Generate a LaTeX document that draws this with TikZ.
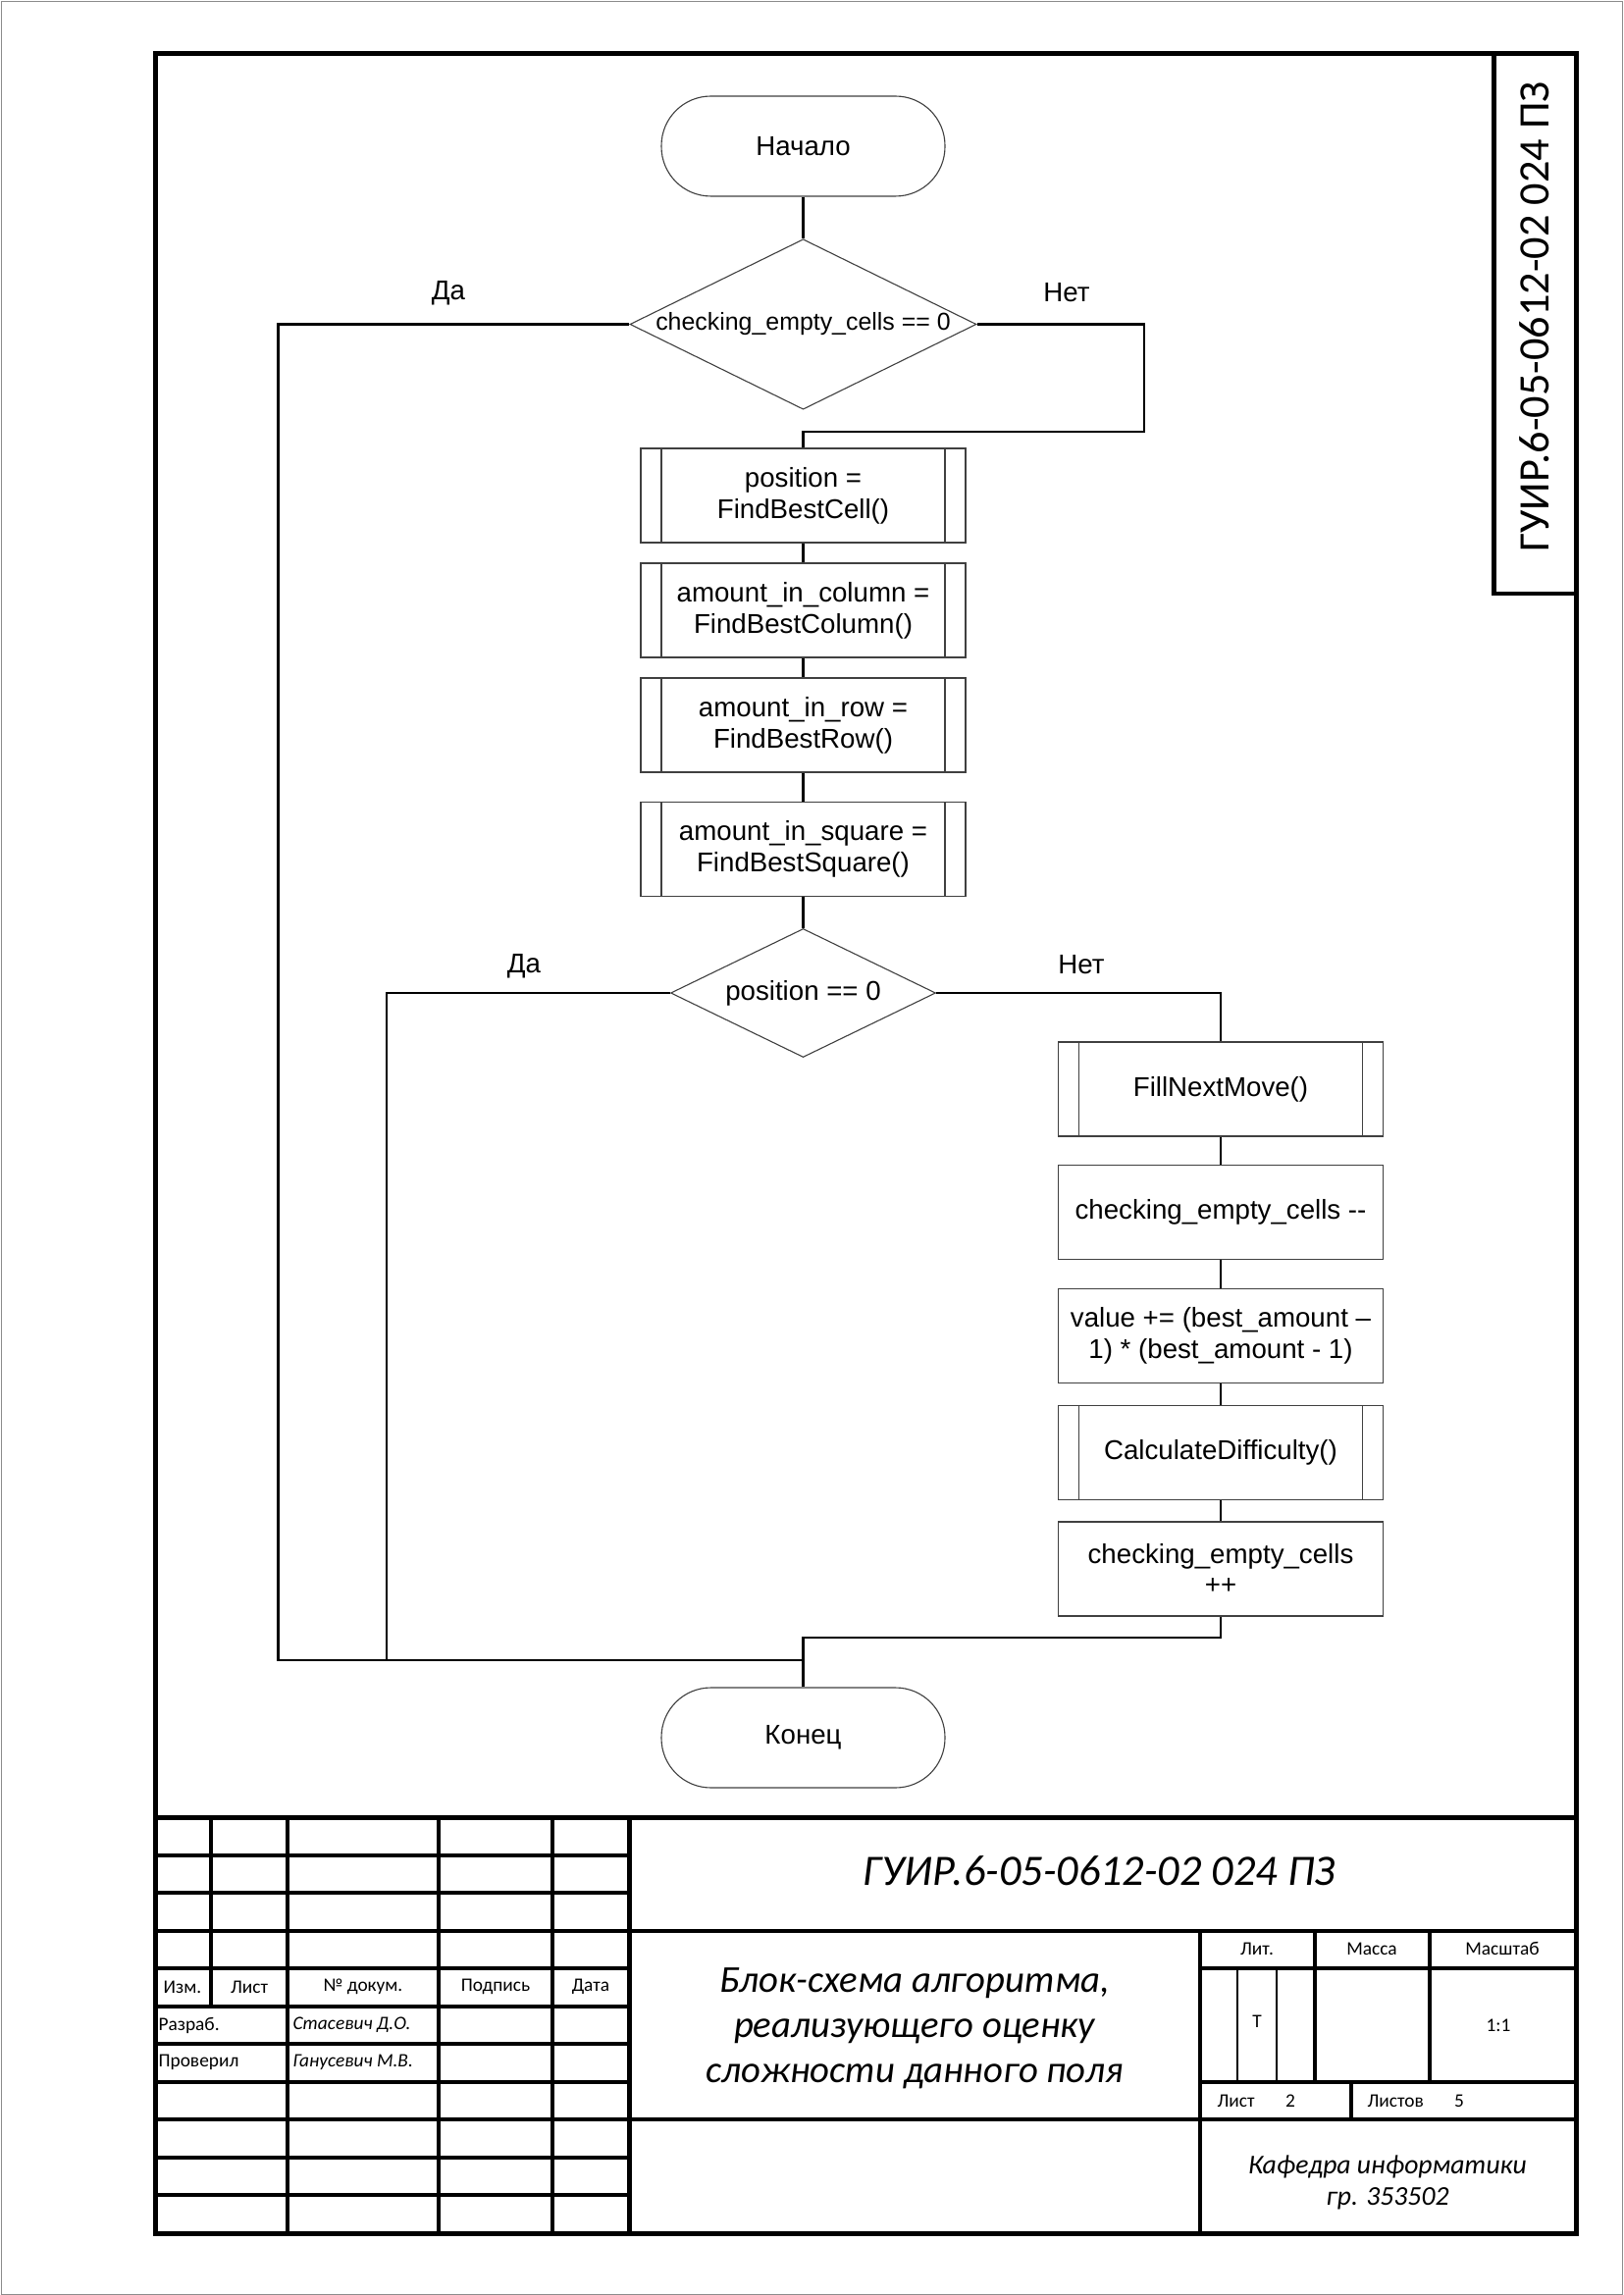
\documentclass[tikz,border=0pt]{standalone}
\usepackage{fontspec}
\setmainfont{Liberation Sans}
\newfontfamily\tbfont{Carlito}
\usetikzlibrary{shapes.geometric}

\begin{document}
\begin{tikzpicture}[x=0.127mm,y=-0.127mm,
  fclink/.style={line width=0.75pt, black},
  fcline/.style={draw=black!75, line width=0.4pt},
  fcterm/.style={fcline, rectangle, rounded corners=6.4mm, minimum width=36.7mm,
    minimum height=12.95mm, inner sep=0pt, font=\fontsize{10}{11.5}\selectfont},
  fcproc/.style={fcline, rectangle, minimum width=42.04mm, minimum height=12.19mm,
    inner sep=0pt, align=center, font=\fontsize{10}{11.5}\selectfont},
  fcsub/.style={fcproc, path picture={
     \draw[black!75, line width=0.4pt]
       ([xshift=2.67mm]path picture bounding box.north west) --
       ([xshift=2.67mm]path picture bounding box.south west);
     \draw[black!75, line width=0.4pt]
       ([xshift=-2.67mm]path picture bounding box.north east) --
       ([xshift=-2.67mm]path picture bounding box.south east);}},
  fcdec/.style={fcline, diamond, inner sep=0pt, aspect=2},
  fclabel/.style={font=\fontsize{10}{12}\selectfont},
  frameline/.style={line width=1.8pt, line cap=rect},
  tbline/.style={line width=1.45pt},
  tbthin/.style={line width=1.0pt},
  tbtext/.style={font=\tbfont\fontsize{7}{8.5}\selectfont, inner sep=0pt},
  tbital/.style={font=\tbfont\itshape\fontsize{7}{8.5}\selectfont, inner sep=0pt},
]
\useasboundingbox (0,0) rectangle (1654,2339);
% sheet edge
\draw[black!45, line width=0.35pt] (1,1) rectangle (1653,2338);

% ---------- drawing frame ----------
\draw[frameline] (158.5,55) rectangle (1606,2276);
% top-right designation stamp
\draw[frameline] (1522,55) -- (1522,605) -- (1606,605);
\node[font=\tbfont\fontsize{16}{18}\selectfont, rotate=90] (stamp) at (1564,323)
  {ГУИР.6-05-0612-02 024 ПЗ};

% ---------- flowchart ----------
\node[fcterm] (start) at (818.5,149) {Начало};
\node[fcdec, minimum width=44.83mm, minimum height=21.97mm,
      font=\fontsize{9}{10}\selectfont] (d1) at (818.5,330.5) {checking\_empty\_cells == 0};
\node[fcsub] (b1) at (818.5,505) {position =\\FindBestCell()};
\node[fcsub] (b2) at (818.5,622) {amount\_in\_column =\\FindBestColumn()};
\node[fcsub] (b3) at (818.5,739) {amount\_in\_row =\\FindBestRow()};
\node[fcsub] (b4) at (818.5,865.5) {amount\_in\_square =\\FindBestSquare()};
\node[fcdec, minimum width=34.29mm, minimum height=16.64mm,
      font=\fontsize{10}{11.5}\selectfont] (d2) at (818.5,1012) {position == 0};

\node[fcsub]  (r1) at (1244,1110)   {FillNextMove()};
\node[fcproc] (r2) at (1244,1235.5) {checking\_empty\_cells -{}-};
\node[fcproc] (r3) at (1244,1361.5) {value += (best\_amount –\\1) * (best\_amount - 1)};
\node[fcsub]  (r4) at (1244,1480.5) {CalculateDifficulty()};
\node[fcproc] (r5) at (1244,1599)   {checking\_empty\_cells\\++};

\node[fcterm] (stop) at (818.5,1771) {Конец};

% branch labels
\node[fclabel] (yes1) at (457,299) {Да};
\node[fclabel] (no1)  at (1087,298) {Нет};
\node[fclabel] (yes2) at (534,985) {Да};
\node[fclabel] (no2)  at (1102,983) {Нет};

% bend points of the connectors
\coordinate (n1) at (1166,440);
\coordinate (la) at (283.5,1692);
\coordinate (lb) at (394,1692);
\coordinate (jm) at (818.5,1692);
\coordinate (jr) at (818.5,1669);

\draw[fclink] (start.south) -- (d1.north);
\draw[fclink] (d1.east) -| (n1) -| (b1.north);
\draw[fclink] (b1.south) -- (b2.north);
\draw[fclink] (b2.south) -- (b3.north);
\draw[fclink] (b3.south) -- (b4.north);
\draw[fclink] (b4.south) -- (d2.north);
\draw[fclink] (d2.east) -| (r1.north);
\draw[fclink] (r1.south) -- (r2.north);
\draw[fclink] (r2.south) -- (r3.north);
\draw[fclink] (r3.south) -- (r4.north);
\draw[fclink] (r4.south) -- (r5.north);
\draw[fclink] (r5.south) |- (jr) -- (stop.north);
\draw[fclink] (d1.west) -| (la) -- (jm);
\draw[fclink] (d2.west) -| (lb);

% ---------- title block ----------
\draw[frameline] (158.5,1852) -- (1606,1852);
\foreach \k in {1,...,10}
  \draw[tbline] (158.5,{1852+38.545*\k}) -- (641,{1852+38.545*\k});
\draw[tbline] (215,1852) -- (215,2044.5);
\foreach \x in {293,447,563}
  \draw[tbline] (\x,1852) -- (\x,2276);
\draw[frameline] (641,1852) -- (641,2276);
\draw[tbline] (641,1967.5) -- (1606,1967.5);
\draw[tbline] (641,2160) -- (1606,2160);
\draw[tbline] (1223,1967.5) -- (1223,2276);
\draw[tbline] (1223,2006) -- (1606,2006);
\draw[tbline] (1223,2121.5) -- (1606,2121.5);
\draw[tbline] (1340,1967.5) -- (1340,2121.5);
\draw[tbline] (1457,1967.5) -- (1457,2121.5);
\draw[tbthin] (1261,2006) -- (1261,2121.5);
\draw[tbthin] (1301,2006) -- (1301,2121.5);
\draw[tbline] (1377,2121.5) -- (1377,2160);

% left columns
\node[tbtext] (h1) at (186,2025) {Изм.};
\node[tbtext] (h2) at (254,2025) {Лист};
\node[tbtext] (h3) at (370,2025) {№ докум.};
\node[tbtext] (h4) at (505,2025) {Подпись};
\node[tbtext] (h5) at (602,2025) {Дата};
\node[tbtext, anchor=west] (p1) at (161,2064) {Разраб.};
\node[tbital, anchor=west] (p1n) at (298,2064) {Стасевич Д.О.};
\node[tbtext, anchor=west] (p2) at (161,2102) {Проверил};
\node[tbital, anchor=west] (p2n) at (298,2102) {Ганусевич М.В.};

% right part
\node[font=\tbfont\itshape\fontsize{16}{18}\selectfont] (code) at (1120,1907)
  {ГУИР.6-05-0612-02 024 ПЗ};
\node[font=\tbfont\itshape\fontsize{14}{16.6}\selectfont, align=center] (title) at (932,2067)
  {Блок-схема алгоритма,\\реализующего оценку\\сложности данного поля};
\node[tbtext] (lit) at (1281,1986) {Лит.};
\node[tbtext] (mass) at (1398,1986) {Масса};
\node[tbtext] (scale) at (1531,1986) {Масштаб};
\node[tbtext] (litT) at (1281,2060) {Т};
\node[tbtext] (scv) at (1527,2064) {1:1};
\node[tbtext, anchor=west] (sh) at (1240,2141) {Лист};
\node[tbtext] (shn) at (1315,2141) {2};
\node[tbtext, anchor=west] (shs) at (1393,2141) {Листов};
\node[tbtext] (shsn) at (1487,2141) {5};
\node[font=\tbfont\itshape\fontsize{10}{11.6}\selectfont, align=center] (dept) at (1414,2224)
  {Кафедра информатики\\гр. 353502};
\end{tikzpicture}
\end{document}
